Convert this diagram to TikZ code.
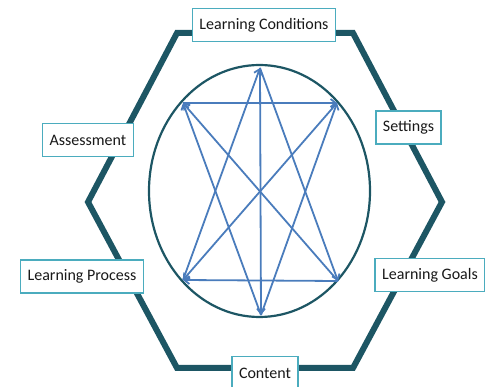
\documentclass[tikz,border=0pt]{standalone}
\usepackage{fontspec}
\setmainfont{Carlito}
\usepackage{tikz}
\usetikzlibrary{arrows.meta,positioning}
\tikzset{>={Straight Barb[length=5pt,width=8pt]}}
\definecolor{hexteal}{RGB}{29,86,100}
\definecolor{boxteal}{RGB}{75,172,190}
\definecolor{linkblue}{RGB}{74,124,188}
\tikzset{
    topic/.style={draw=boxteal,line width=1.5pt,fill=white,minimum height=33pt,
        inner xsep=7pt,font=\fontsize{16}{19}\selectfont,text=black!90}
}

\begin{document}
\begin{tikzpicture}[x=1pt,y=-1pt]
    \useasboundingbox (0,0) rectangle (485,387);
    \draw[hexteal,line width=6pt,line join=miter] (177,33) -- (353,33) -- (442,202) -- (353,368) -- (177,368) -- (88,202) -- cycle;
    \draw[hexteal,line width=2.2pt] (259.5,191) ellipse [x radius=110.5pt, y radius=126pt];
    \node[topic] at (264,25) (cond) {Learning Conditions};
    \node[topic] at (408.5,127.5) (sett) {Settings};
    \node[topic] at (430,275) (goal) {Learning Goals};
    \node[topic] at (265,373) (cont) {Content};
    \node[topic] at (82,276.5) (proc) {Learning Process};
    \node[topic] at (88,140) (asse) {Assessment};
    \coordinate (t) at (260,68);
    \coordinate (tl) at (183,103);
    \coordinate (tr) at (337,103);
    \coordinate (bl) at (183,280);
    \coordinate (br) at (338,281);
    \coordinate (b) at (261,315);
    \path[->, linkblue, line width=1.8pt]
    (tl) edge (tr)
    (br) edge (bl)
    (tr) edge (bl)
    (br) edge (tl)
    (b) edge (tl)
    (t) edge (br)
    (bl) edge (t)
    (t) edge (b)
    (b) edge (tr)
    ;
\end{tikzpicture}
\end{document}
